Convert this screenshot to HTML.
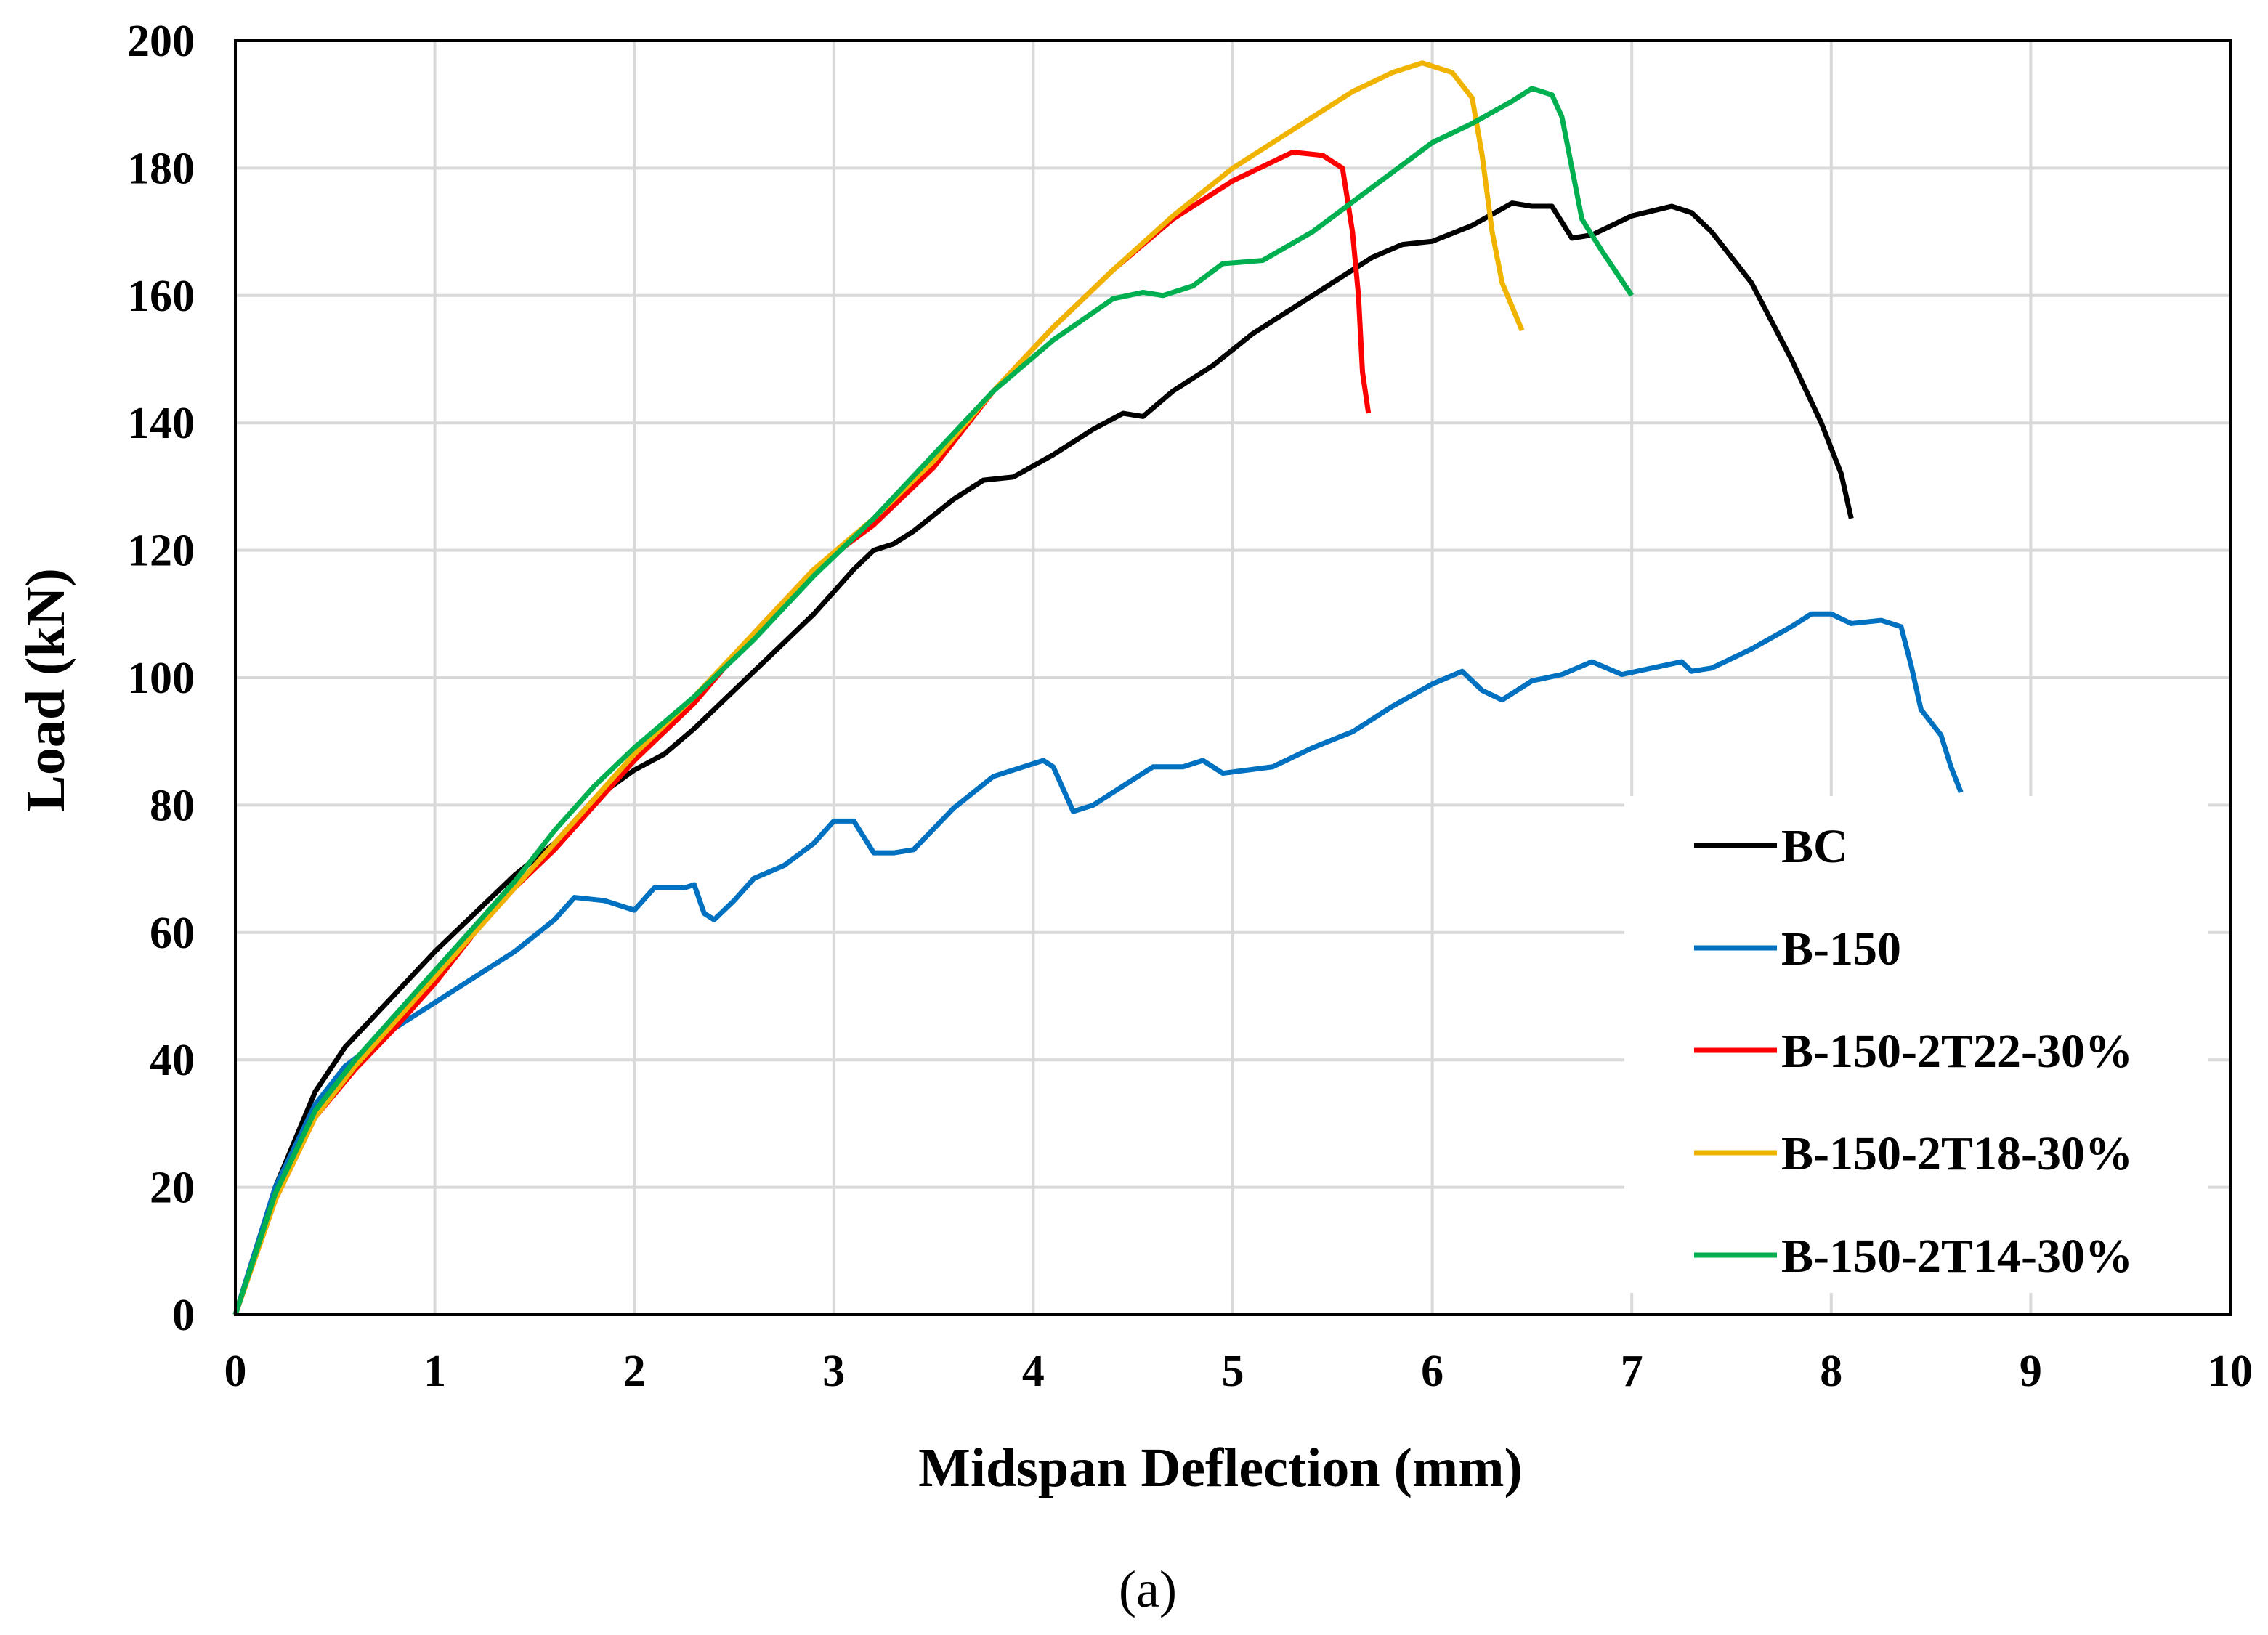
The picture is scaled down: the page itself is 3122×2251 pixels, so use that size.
<!DOCTYPE html>
<html><head><meta charset="utf-8"><style>
html,body{margin:0;padding:0;background:#fff}
svg text{font-family:"Liberation Serif",serif}
</style></head><body>
<svg id="chart" width="3122" height="2246" viewBox="0 0 3122 2246" xmlns="http://www.w3.org/2000/svg">
<g id="grid"></g>
<g id="series"></g>
<rect x="2236" y="1096" width="804" height="684" fill="#fff"/>
<g id="legend"></g>
<rect x="324" y="56" width="2746" height="1754" fill="none" stroke="#000" stroke-width="4"/>
<g id="ticks"></g>
<text x="1680" y="2046" font-size="76" font-weight="bold" text-anchor="middle">Midspan Deflection (mm)</text>
<text x="0" y="0" font-size="76" font-weight="bold" text-anchor="middle" transform="translate(88,950) rotate(-90)">Load (kN)</text>
<text x="1580" y="2212" font-size="72" text-anchor="middle">(a)</text>
</svg>
<script>
const xTicks=[0,1,2,3,4,5,6,7,8,9,10];
const yTicks=[0,20,40,60,80,100,120,140,160,180,200];
const seriesNames=["BC","B-150","B-150-2T22-30%","B-150-2T18-30%","B-150-2T14-30%"];
const seriesColors=["#000000","#0070C0","#FF0000","#F0B400","#00B050"];
const bcX=[0,0.2,0.4,0.55,0.7,0.85,1,1.2,1.4,1.6,1.8,2,2.15,2.3,2.5,2.7,2.9,3.1,3.2,3.3,3.4,3.6,3.75,3.9,4.1,4.3,4.45,4.55,4.7,4.9,5.1,5.3,5.5,5.7,5.85,6,6.2,6.4,6.5,6.6,6.7,6.8,7,7.2,7.3,7.4,7.6,7.8,7.95,8.05,8.1];
const bcY=[0,20,35,42,47,52,57,63,69,74,81,85.5,88,92,98,104,110,117,120,121,123,128,131,131.5,135,139,141.5,141,145,149,154,158,162,166,168,168.5,171,174.5,174,174,169,169.5,172.5,174,173,170,162,150,140,132,125];
const b150X=[0,0.2,0.4,0.55,0.8,1,1.2,1.4,1.6,1.7,1.85,2,2.1,2.25,2.3,2.35,2.4,2.5,2.6,2.75,2.9,3,3.1,3.2,3.3,3.4,3.6,3.8,3.95,4.05,4.1,4.2,4.3,4.45,4.6,4.75,4.85,4.95,5.2,5.4,5.6,5.8,6,6.15,6.25,6.35,6.5,6.65,6.8,6.95,7.1,7.25,7.3,7.4,7.6,7.8,7.9,8,8.1,8.25,8.35,8.4,8.45,8.55,8.6,8.65];
const b150Y=[0,20,33,39,45,49,53,57,62,65.5,65,63.5,67,67,67.5,63,62,65,68.5,70.5,74,77.5,77.5,72.5,72.5,73,79.5,84.5,86,87,86,79,80,83,86,86,87,85,86,89,91.5,95.5,99,101,98,96.5,99.5,100.5,102.5,100.5,101.5,102.5,101,101.5,104.5,108,110,110,108.5,109,108,102,95,91,86,82];
const t22X=[0,0.2,0.4,0.6,0.8,1,1.2,1.4,1.6,1.8,2,2.3,2.6,2.9,3.2,3.5,3.8,4.1,4.4,4.7,5,5.2,5.3,5.45,5.55,5.6,5.63,5.65,5.68];
const t22Y=[0,18,31,38.5,45,52,60,67,73,80,87,96,107,117,124,133,145,155,164,172,178,181,182.5,182,180,170,160,148,141.5];
const t18X=[0,0.2,0.4,0.6,0.8,1,1.2,1.4,1.6,1.8,2,2.3,2.6,2.9,3.2,3.5,3.8,4.1,4.4,4.7,5,5.3,5.6,5.8,5.95,6.1,6.2,6.25,6.3,6.35,6.45];
const t18Y=[0,18,31,39,46,53,60,67,74,81,88,97,107,117,125,134,145,155,164,172.5,180,186,192,195,196.5,195,191,182,170,162,154.5];
const t14X=[0,0.2,0.4,0.6,0.8,1,1.2,1.4,1.6,1.8,2,2.3,2.6,2.9,3.2,3.5,3.8,4.1,4.4,4.55,4.65,4.8,4.95,5.15,5.4,5.7,6,6.2,6.4,6.5,6.6,6.65,6.7,6.75,6.85,7];
const t14Y=[0,19,32,40,47,54,61,68,76,83,89,97,106,116,125,135,145,153,159.5,160.5,160,161.5,165,165.5,170,177,184,187,190.5,192.5,191.5,188,180,172,167,160];
const allX=[bcX,b150X,t22X,t18X,t14X], allY=[bcY,b150Y,t22Y,t18Y,t14Y];
const NS="http://www.w3.org/2000/svg";
const L=324,R=3070,T=56,B=1810;
const sx=v=>L+(v-0)/(10-0)*(R-L);
const sy=v=>B-(v-0)/(200-0)*(B-T);
const grid=document.getElementById('grid'),ticks=document.getElementById('ticks');
xTicks.forEach(t=>{
 const l=document.createElementNS(NS,'line');
 
 
 l.setAttribute('x1',sx(t));l.setAttribute('x2',sx(t));l.setAttribute('y1',T);l.setAttribute('y2',B);
 l.setAttribute('stroke','#d9d9d9');l.setAttribute('stroke-width','4');grid.appendChild(l);
 const tx=document.createElementNS(NS,'text');
 
 
 tx.setAttribute('x',sx(t));tx.setAttribute('y',1908);tx.setAttribute('font-size','62');tx.setAttribute('font-weight','bold');tx.setAttribute('text-anchor','middle');
 tx.textContent=t;ticks.appendChild(tx);
});
yTicks.forEach(t=>{
 const l=document.createElementNS(NS,'line');
 
 
 l.setAttribute('x1',L);l.setAttribute('x2',R);l.setAttribute('y1',sy(t));l.setAttribute('y2',sy(t));
 l.setAttribute('stroke','#d9d9d9');l.setAttribute('stroke-width','4');grid.appendChild(l);
 const tx=document.createElementNS(NS,'text');
 
 
 tx.setAttribute('x',268);tx.setAttribute('y',sy(t)+21);tx.setAttribute('font-size','62');tx.setAttribute('font-weight','bold');tx.setAttribute('text-anchor','end');
 tx.textContent=t;ticks.appendChild(tx);
});
const sg=document.getElementById('series'),lg=document.getElementById('legend');
seriesNames.forEach((n,i)=>{
 const p=document.createElementNS(NS,'polyline');
 
 
 p.setAttribute('points',allX[i].map((x,j)=>sx(x)+','+sy(allY[i][j])).join(' '));
 p.setAttribute('fill','none');p.setAttribute('stroke',seriesColors[i]);p.setAttribute('stroke-width','7');p.setAttribute('stroke-linejoin','round');
 sg.appendChild(p);
 const y=1164+i*141;
 const l=document.createElementNS(NS,'line');
 
 
 l.setAttribute('x1',2332);l.setAttribute('x2',2446);l.setAttribute('y1',y);l.setAttribute('y2',y);
 l.setAttribute('stroke',seriesColors[i]);l.setAttribute('stroke-width','7');lg.appendChild(l);
 const tx=document.createElementNS(NS,'text');
 
 
 tx.setAttribute('x',2452);tx.setAttribute('y',y+23);tx.setAttribute('font-size','66');tx.setAttribute('font-weight','bold');
 tx.textContent=n;lg.appendChild(tx);
});
</script>
</body></html>
